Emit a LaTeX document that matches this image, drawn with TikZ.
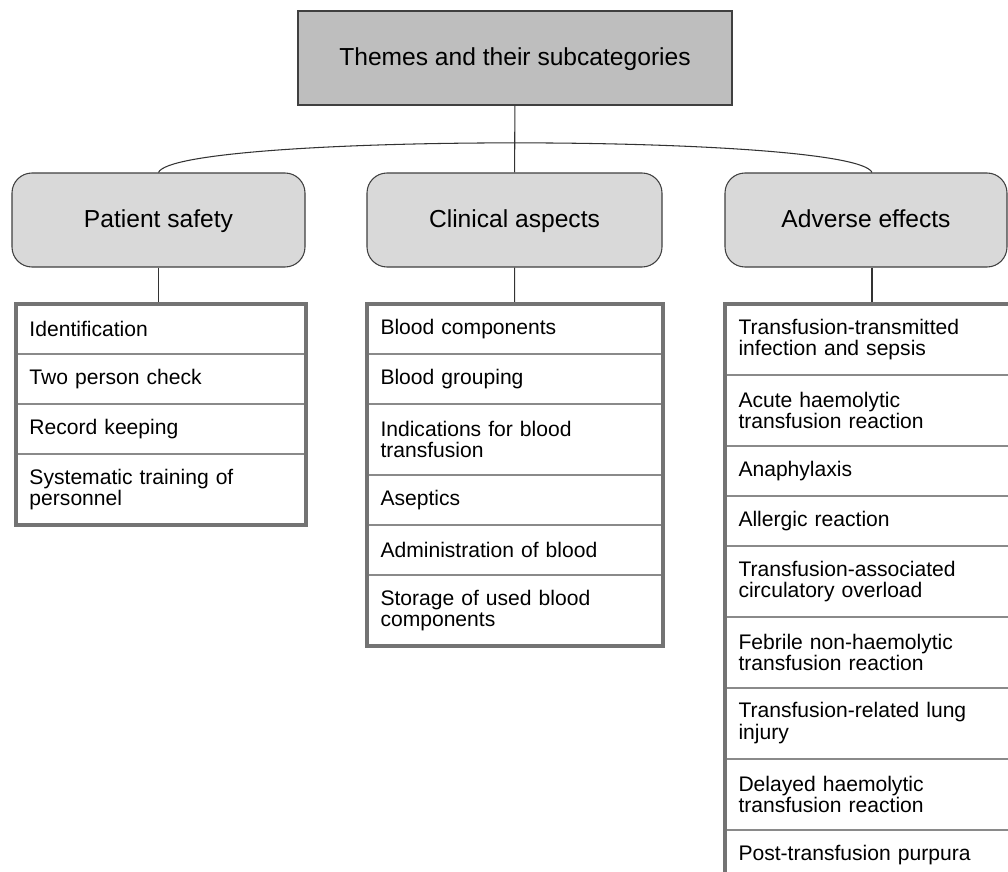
\documentclass[tikz,border=0pt]{standalone}
\usepackage{fontspec}
\setmainfont{Liberation Sans}
\usepackage{tikz}
\usetikzlibrary{positioning,fit}
\definecolor{themegray}{HTML}{BEBEBE}
\definecolor{catgray}{HTML}{D9D9D9}
\definecolor{framegray}{HTML}{737373}
\definecolor{rulegray}{HTML}{8A8A8A}
\tikzset{
     themebox/.style={draw=black!75, line width=0.6pt, fill=themegray, minimum width=434*0.02cm, minimum height=94*0.02cm, text height=12pt, text depth=3pt, font=\fontsize{14}{16}\selectfont},
     catbox/.style={draw=black!75, line width=0.6pt, fill=catgray, rounded corners=0.4cm, minimum height=94*0.02cm, text height=12pt, text depth=3pt, font=\fontsize{14}{16}\selectfont},
     row/.style={draw=rulegray, line width=1.1pt, fill=white, outer sep=0pt, inner xsep=0.27cm, align=left, text width=#1*0.02cm-0.54cm, minimum height=1cm, font=\fontsize{12}{12.4}\selectfont},
     rowtwo/.style={row=#1, minimum height=1.42cm},
     listframe/.style={draw=framegray, line width=2.3pt, inner sep=0pt},
     link/.style={draw=black!80, line width=0.6pt}
     }

\begin{document}
\begin{tikzpicture}[x=0.02cm, y=-0.02cm]
                    \path[use as bounding box, fill=white] (0,0) rectangle (1008,872);
                    \clip (0,0) rectangle (1008,872);
                    % Place nodes
                    \node[themebox] (themes) at (515,58) {Themes and their subcategories};
                    \node[catbox, minimum width=293*0.02cm] (pat) at (158.5,220) {Patient safety};
                    \node[catbox, minimum width=295*0.02cm] (clin) at (514.5,220) {Clinical aspects};
                    \node[catbox, minimum width=282*0.02cm] (adv) at (866,220) {Adverse effects};
                    % Patient safety list
                    \node[row=290, anchor=north] (p1) at (161,304) {Identification};
                    \node[row=290, below=0pt of p1] (p2) {Two person check};
                    \node[row=290, below=0pt of p2] (p3) {Record keeping};
                    \node[rowtwo=290, below=0pt of p3] (p4) {Systematic training of\\personnel};
                    \node[listframe, fit=(p1)(p4)] (plist) {};
                    % Clinical aspects list
                    \node[row=296, anchor=north] (c1) at (515,304) {Blood components};
                    \node[row=296, below=0pt of c1] (c2) {Blood grouping};
                    \node[rowtwo=296, below=0pt of c2] (c3) {Indications for blood\\transfusion};
                    \node[row=296, below=0pt of c3] (c4) {Aseptics};
                    \node[row=296, below=0pt of c4] (c5) {Administration of blood};
                    \node[rowtwo=296, below=0pt of c5] (c6) {Storage of used blood\\components};
                    \node[listframe, fit=(c1)(c6)] (clist) {};
                    % Adverse effects list
                    \node[rowtwo=294, anchor=north] (a1) at (872,304) {Transfusion-transmitted\\infection and sepsis};
                    \node[rowtwo=294, below=0pt of a1] (a2) {Acute haemolytic\\transfusion reaction};
                    \node[row=294, below=0pt of a2] (a3) {Anaphylaxis};
                    \node[row=294, below=0pt of a3] (a4) {Allergic reaction};
                    \node[rowtwo=294, below=0pt of a4] (a5) {Transfusion-associated\\circulatory overload};
                    \node[rowtwo=294, below=0pt of a5] (a6) {Febrile non-haemolytic\\transfusion reaction};
                    \node[rowtwo=294, below=0pt of a6] (a7) {Transfusion-related lung\\injury};
                    \node[rowtwo=294, below=0pt of a7] (a8) {Delayed haemolytic\\transfusion reaction};
                    \node[row=294, below=0pt of a8] (a9) {Post-transfusion purpura};
                    \node[listframe, fit=(a1)(a9)] (alist) {};
                    % Draw edges
                    \draw[link] (themes) -- (clin);
                    \draw[link] (pat.north) .. controls (175,133) and (855,133) .. (a1.north |- adv.north);
                    \draw[link] (pat.south) -- (pat.south |- plist.north);
                    \draw[link] (clin) -- (clist);
                    \draw[link] (a1.north |- adv.south) -- (alist.north -| a1.north);
                \end{tikzpicture}
\end{document}
